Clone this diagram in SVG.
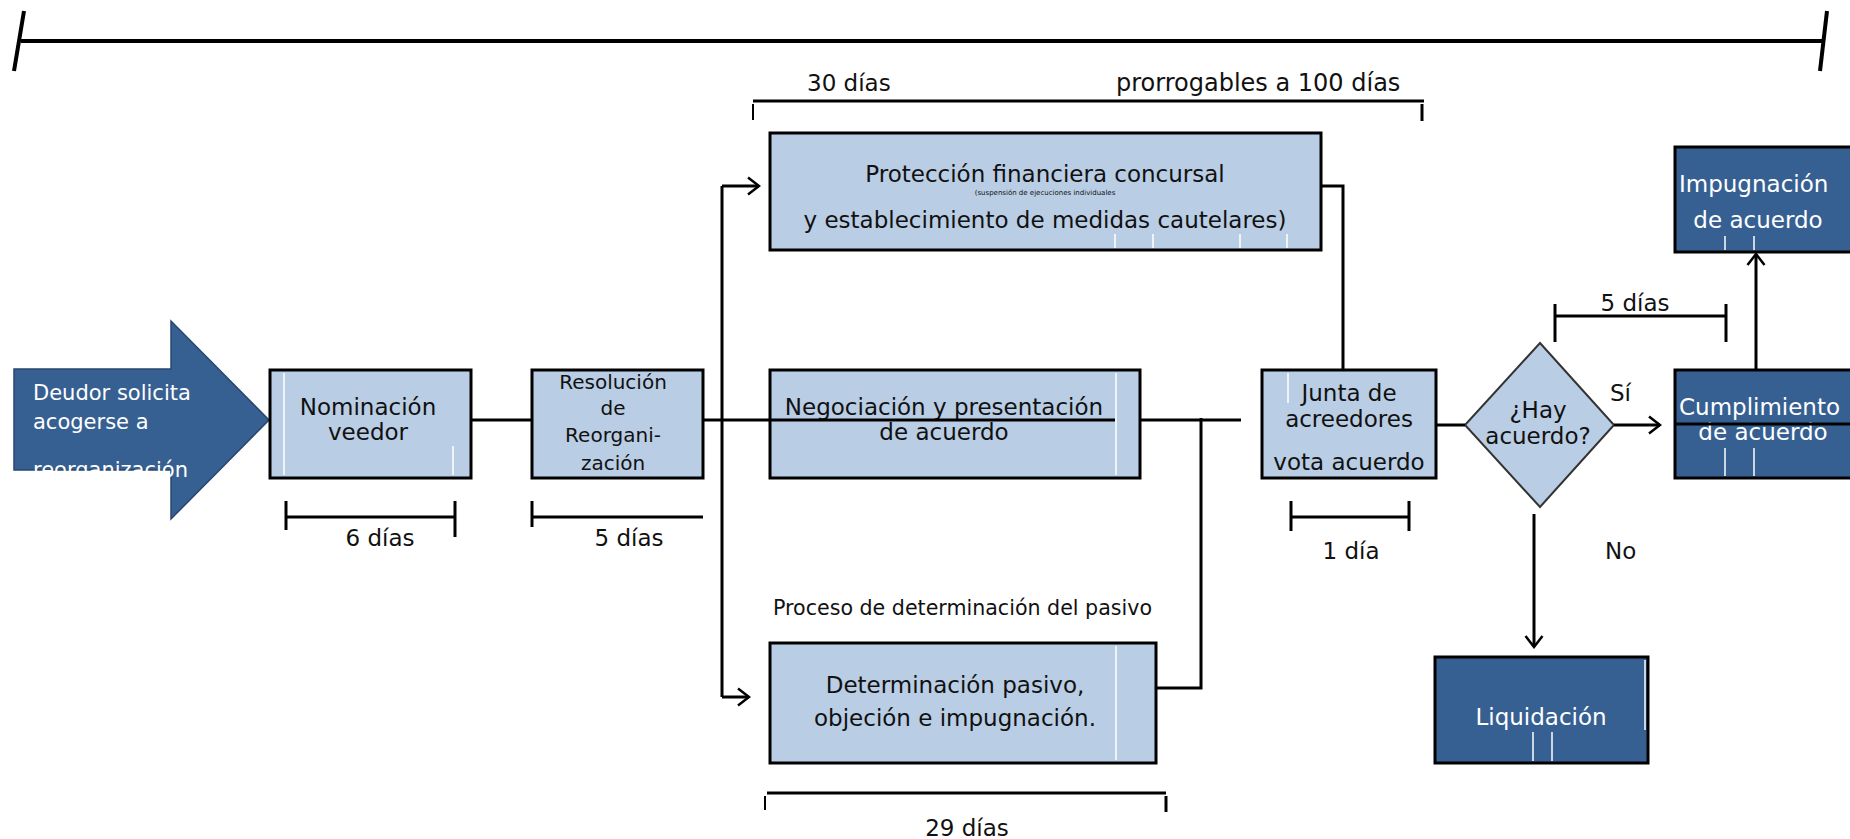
<svg xmlns="http://www.w3.org/2000/svg" width="1850" height="839" viewBox="0 0 1850 839">
<defs>
<style>
text{font-family:"DejaVu Sans","Liberation Sans",sans-serif;fill:#111;}
.lb{fill:#B9CDE5;stroke:#000;stroke-width:3;}
.db{fill:#376092;stroke:#000;stroke-width:3;}
.ln{stroke:#000;stroke-width:3;fill:none;}
.tk{stroke:#000;stroke-width:3;}
.art{stroke:#fff;stroke-width:1.5;}
.w{fill:#fff;}
.t23{font-size:23px;}
.t20{font-size:20px;}
.c{text-anchor:middle;}
</style>
<marker id="arr" viewBox="0 0 14 20" refX="12" refY="10" markerWidth="14" markerHeight="20" markerUnits="userSpaceOnUse" orient="auto">
<path d="M1,1.5 L12,10 L1,18.5" fill="none" stroke="#000" stroke-width="2.5"/>
</marker>
</defs>
<rect width="1850" height="839" fill="#fff"/>

<g id="timeline">
<line x1="21" y1="41" x2="1823" y2="41" stroke="#000" stroke-width="4"/>
<line x1="24" y1="11" x2="14" y2="71" stroke="#000" stroke-width="4"/>
<line x1="1827" y1="11" x2="1820" y2="71" stroke="#000" stroke-width="4"/>
</g>

<g id="plazo-proteccion">
<line x1="753" y1="101" x2="1424" y2="101" class="ln"/>
<line x1="753" y1="104" x2="753" y2="120" stroke="#000" stroke-width="2"/>
<line x1="1422" y1="104" x2="1422" y2="121" class="tk"/>
<text x="807" y="91" class="t23">30 días</text>
<text x="1116" y="91" style="font-size:24px">prorrogables a 100 días</text>
</g>

<g id="deudor">
<polygon points="14,369 171,369 171,321 269,420 171,519 171,470 14,470" fill="#376092" stroke="#27466f" stroke-width="1.5"/>
<text x="33" y="400" class="w" style="font-size:21px">Deudor solicita</text>
<text x="33" y="429" class="w" style="font-size:21px">acogerse a</text>
<text x="33" y="477" class="w" style="font-size:21px">reorganización</text>
</g>

<g id="nominacion">
<rect x="270" y="370" width="201" height="108" class="lb"/>
<line x1="284" y1="373" x2="284" y2="475" class="art"/>
<line x1="453" y1="446" x2="453" y2="475" class="art"/>
<text x="368" y="415" class="t23 c">Nominación</text>
<text x="368" y="440" class="t23 c">veedor</text>
</g>

<g id="resolucion">
<rect x="532" y="370" width="171" height="108" class="lb"/>
<text x="613" y="389" class="t20 c">Resolución</text>
<text x="613" y="415" class="t20 c">de</text>
<text x="613" y="442" class="t20 c">Reorgani-</text>
<text x="613" y="470" class="t20 c">zación</text>
</g>

<g id="proteccion">
<rect x="770" y="133" width="551" height="117" class="lb"/>
<line x1="1115" y1="234" x2="1115" y2="248" class="art"/>
<line x1="1153" y1="234" x2="1153" y2="248" class="art"/>
<line x1="1240" y1="234" x2="1240" y2="248" class="art"/>
<line x1="1287" y1="234" x2="1287" y2="248" class="art"/>
<text x="1045" y="182" class="t23 c">Protección financiera concursal</text>
<text x="1045" y="195" class="c" style="font-size:7px">(suspensión de ejecuciones individuales</text>
<text x="1045" y="228" class="t23 c">y establecimiento de medidas cautelares)</text>
</g>

<g id="negociacion">
<rect x="770" y="370" width="370" height="108" class="lb"/>
<line x1="1116" y1="373" x2="1116" y2="475" class="art"/>
<text x="944" y="415" class="t23 c">Negociación y presentación</text>
<text x="944" y="440" class="t23 c">de acuerdo</text>
</g>

<g id="determinacion">
<text x="773" y="615" style="font-size:20.6px">Proceso de determinación del pasivo</text>
<rect x="770" y="643" width="386" height="120" class="lb"/>
<line x1="1116" y1="646" x2="1116" y2="760" class="art"/>
<text x="955" y="693" class="t23 c">Determinación pasivo,</text>
<text x="955" y="726" class="t23 c">objeción e impugnación.</text>
</g>

<g id="junta">
<rect x="1262" y="370" width="174" height="108" class="lb"/>
<line x1="1288" y1="373" x2="1288" y2="403" class="art"/>
<text x="1349" y="401" class="t23 c">Junta de</text>
<text x="1349" y="427" class="t23 c">acreedores</text>
<text x="1349" y="470" class="t23 c">vota acuerdo</text>
</g>

<g id="decision">
<polygon points="1540,343 1614,425 1540,507 1465,425" fill="#B9CDE5" stroke="#333" stroke-width="2"/>
<text x="1538" y="418" class="t23 c">¿Hay</text>
<text x="1538" y="444" class="t23 c">acuerdo?</text>
</g>

<g id="impugnacion">
<rect x="1675" y="147" width="200" height="105" class="db"/>
<line x1="1725" y1="236" x2="1725" y2="250" class="art"/>
<line x1="1754" y1="236" x2="1754" y2="250" class="art"/>
<text x="1679" y="192" class="t23 w">Impugnación</text>
<text x="1758" y="228" class="t23 w c">de acuerdo</text>
</g>

<g id="cumplimiento">
<rect x="1675" y="370" width="200" height="108" class="db"/>
<line x1="1725" y1="448" x2="1725" y2="476" class="art"/>
<line x1="1754" y1="448" x2="1754" y2="476" class="art"/>
<text x="1679" y="415" class="t23 w">Cumplimiento</text>
<text x="1763" y="440" class="t23 w c">de acuerdo</text>
</g>

<g id="liquidacion">
<rect x="1435" y="657" width="213" height="106" class="db"/>
<line x1="1533" y1="732" x2="1533" y2="761" class="art"/>
<line x1="1552" y1="732" x2="1552" y2="761" class="art"/>
<line x1="1645" y1="660" x2="1645" y2="730" class="art"/>
<text x="1541" y="725" class="t23 w c">Liquidación</text>
</g>

<g id="connectors">
<line x1="471" y1="420" x2="532" y2="420" class="ln"/>
<line x1="703" y1="420" x2="722" y2="420" class="ln"/>
<line x1="722" y1="186" x2="722" y2="697" class="ln"/>
<line x1="722" y1="186" x2="759" y2="186" class="ln" marker-end="url(#arr)"/>
<line x1="722" y1="697" x2="749" y2="697" class="ln" marker-end="url(#arr)"/>
<line x1="722" y1="420" x2="1115" y2="420" class="ln"/>
<line x1="1140" y1="420" x2="1241" y2="420" class="ln"/>
<polyline points="1156,688 1201,688 1201,418" class="ln"/>
<polyline points="1321,186 1343,186 1343,370" class="ln"/>
<line x1="1436" y1="425" x2="1465" y2="425" class="ln"/>
<line x1="1614" y1="425" x2="1660" y2="425" class="ln" marker-end="url(#arr)"/>
<line x1="1675" y1="424" x2="1850" y2="424" class="ln"/>
<line x1="1756" y1="370" x2="1756" y2="254" class="ln" marker-end="url(#arr)"/>
<line x1="1534" y1="514" x2="1534" y2="647" class="ln" marker-end="url(#arr)"/>
<text x="1610" y="401" class="t23">Sí</text>
<text x="1605" y="559" class="t23">No</text>
</g>

<g id="plazos">
<line x1="286" y1="517" x2="455" y2="517" class="ln"/>
<line x1="286" y1="501" x2="286" y2="530" class="tk"/>
<line x1="455" y1="501" x2="455" y2="537" class="tk"/>
<text x="380" y="546" class="t23 c">6 días</text>

<line x1="532" y1="517" x2="703" y2="517" class="ln"/>
<line x1="532" y1="501" x2="532" y2="527" class="tk"/>
<text x="629" y="546" class="t23 c">5 días</text>

<line x1="1291" y1="517" x2="1409" y2="517" class="ln"/>
<line x1="1291" y1="501" x2="1291" y2="531" class="tk"/>
<line x1="1409" y1="501" x2="1409" y2="531" class="tk"/>
<text x="1351" y="559" class="t23 c">1 día</text>

<line x1="1555" y1="316" x2="1726" y2="316" class="ln"/>
<line x1="1555" y1="304" x2="1555" y2="342" class="tk"/>
<line x1="1726" y1="304" x2="1726" y2="342" class="tk"/>
<text x="1635" y="311" class="t23 c">5 días</text>

<line x1="767" y1="793" x2="1166" y2="793" class="ln"/>
<line x1="765" y1="796" x2="765" y2="810" stroke="#000" stroke-width="2"/>
<line x1="1166" y1="796" x2="1166" y2="812" class="tk"/>
<text x="967" y="836" class="t23 c">29 días</text>
</g>
</svg>
